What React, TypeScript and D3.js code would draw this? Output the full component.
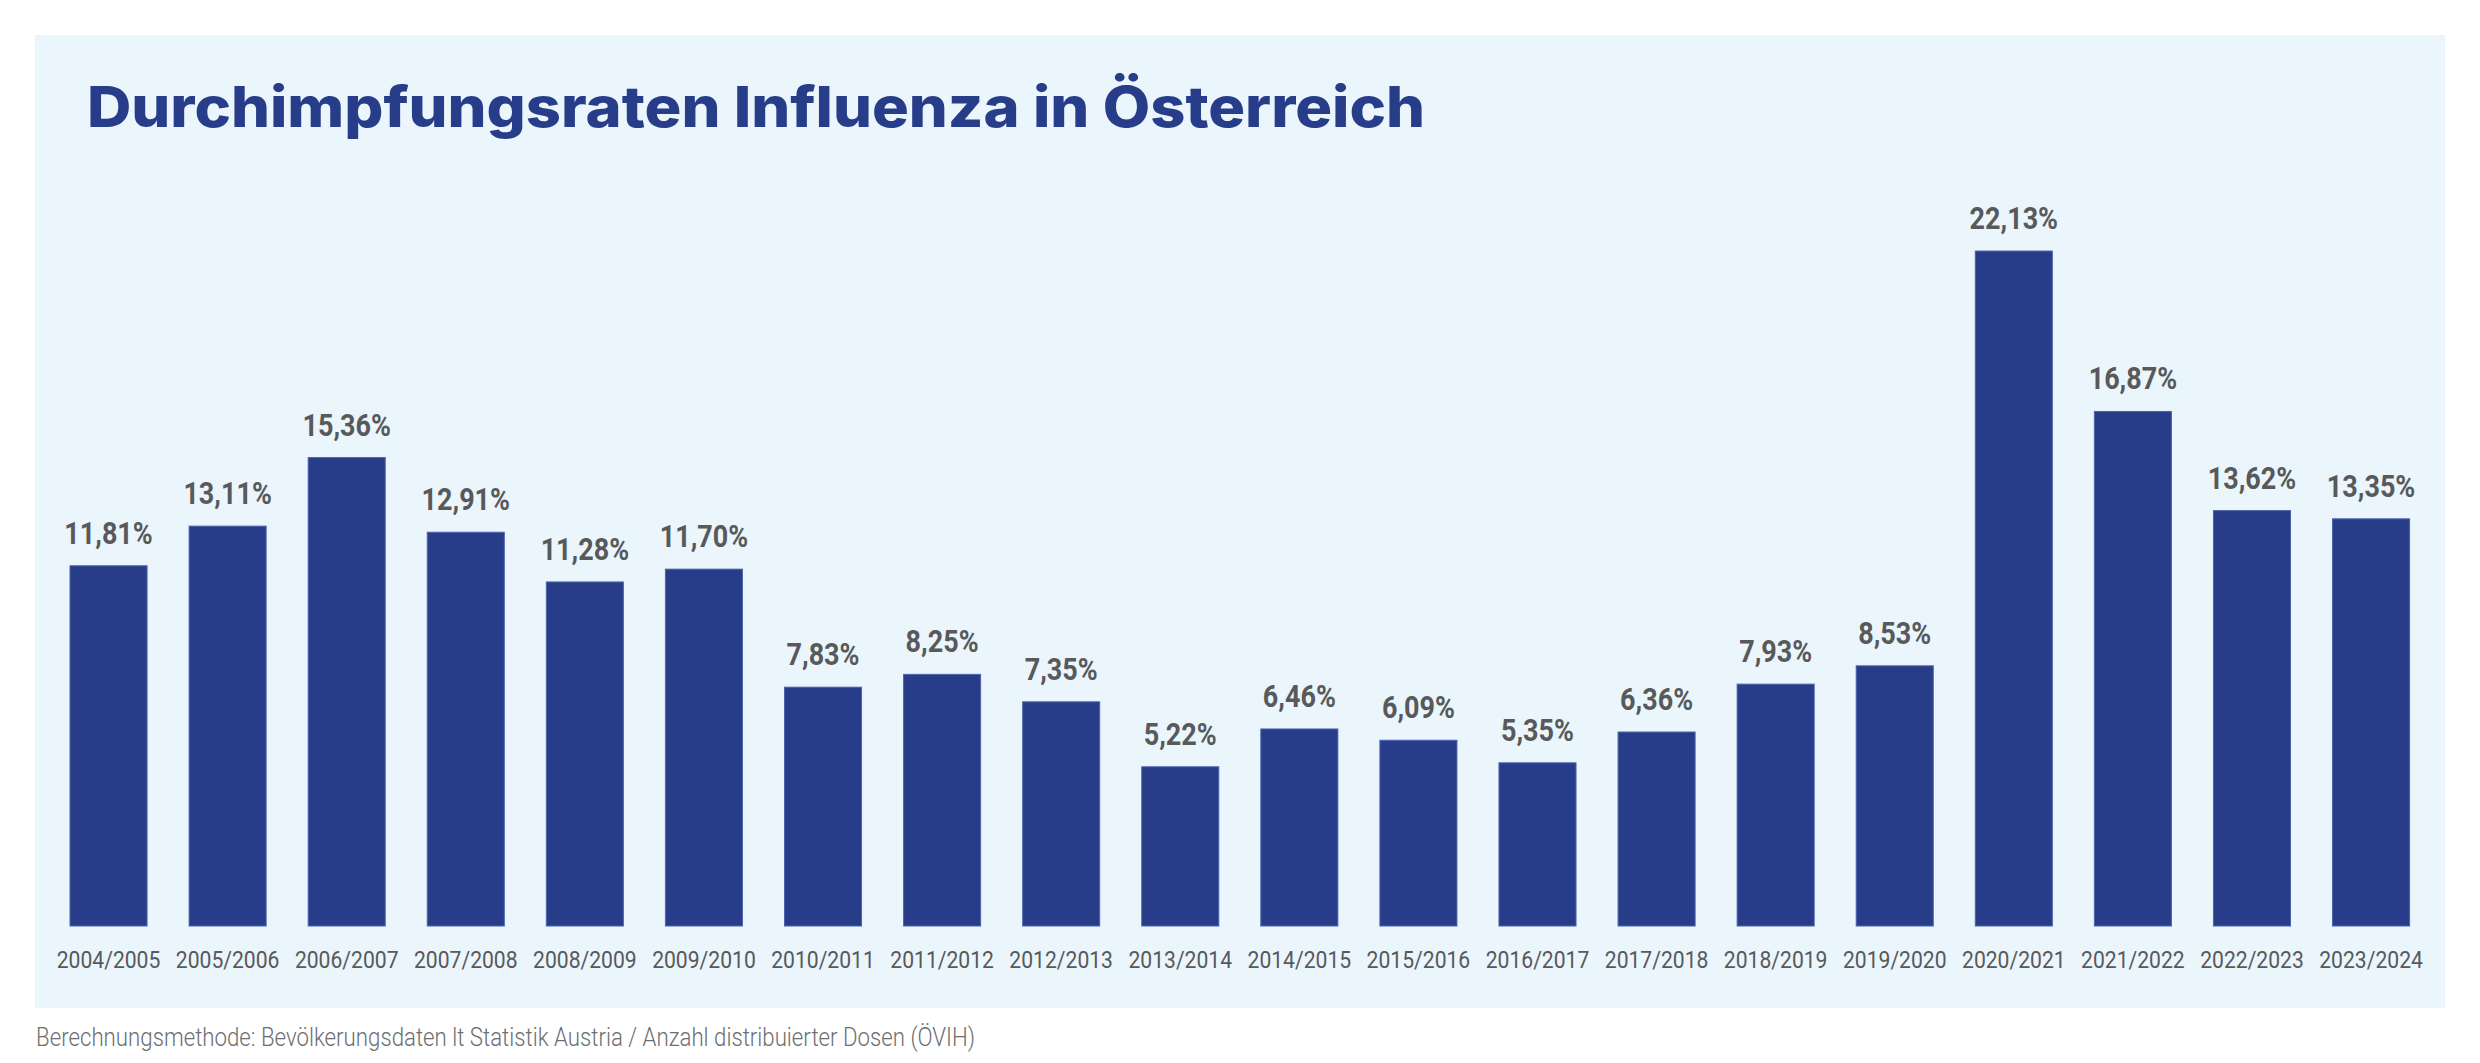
import React from "react";
import * as d3 from "d3";

const seasons = [
  "2004/2005", "2005/2006", "2006/2007", "2007/2008", "2008/2009",
  "2009/2010", "2010/2011", "2011/2012", "2012/2013", "2013/2014",
  "2014/2015", "2015/2016", "2016/2017", "2017/2018", "2018/2019",
  "2019/2020", "2020/2021", "2021/2022", "2022/2023", "2023/2024",
];
const rates = [
  11.81, 13.11, 15.36, 12.91, 11.28, 11.7, 7.83, 8.25, 7.35, 5.22,
  6.46, 6.09, 5.35, 6.36, 7.93, 8.53, 22.13, 16.87, 13.62, 13.35,
];
const title = "Durchimpfungsraten Influenza in Österreich";
const footnote =
  "Berechnungsmethode: Bevölkerungsdaten lt Statistik Austria / Anzahl distribuierter Dosen (ÖVIH)";

const W = 2480;
const H = 1063;
const BAR = "#283d8a";
const TXT = "#58595b";

export default function App() {
  const x = d3
    .scaleBand<string>()
    .domain(seasons)
    .range([49, 2430.6])
    .paddingInner(0.353)
    .paddingOuter(0.1765);
  const y = d3.scaleLinear().domain([0, 25]).range([926, 163.5]);
  const fmt = (v: number) => v.toFixed(2).replace(".", ",") + "%";
  const sx = 0.87;

  return (
    <svg
      width={W}
      height={H}
      viewBox={`0 0 ${W} ${H}`}
      style={{ position: "absolute", left: 0, top: 0, display: "block" }}
    >
      <rect width={W} height={H} fill="#ffffff" />
      <rect x={35} y={35} width={2410} height={973} fill="#eaf5fc" />
      <text
        x={87}
        y={127}
        fontFamily="Inter, 'Open Sans', sans-serif"
        fontWeight={800}
        fontSize={56}
        fill={BAR}
        textLength={1338}
        lengthAdjust="spacingAndGlyphs"
      >
        {title}
      </text>
      {seasons.map((s, i) => {
        const bx = x(s)!;
        const bw = x.bandwidth();
        const cx = bx + bw / 2;
        const top = y(rates[i]);
        return (
          <g key={s}>
            <rect
              x={bx}
              y={top}
              width={bw}
              height={y(0) - top}
              fill={BAR}
              stroke="#4d62ad"
              strokeWidth={1}
            />
            <g transform={`translate(${cx},${top - 22}) scale(${sx},1)`}>
              <text
                x={0}
                y={0}
                textAnchor="middle"
                fontFamily="Roboto, sans-serif"
                fontWeight={700}
                fontSize={31}
                fill={TXT}
              >
                {fmt(rates[i])}
              </text>
            </g>
            <g transform={`translate(${cx},968) scale(0.88,1)`}>
              <text
                x={0}
                y={0}
                textAnchor="middle"
                fontFamily="Roboto, sans-serif"
                fontWeight={400}
                fontSize={24}
                fill={TXT}
              >
                {s}
              </text>
            </g>
          </g>
        );
      })}
      <text
        x={36}
        y={1046}
        fontFamily="Roboto, sans-serif"
        fontWeight={300}
        fontSize={25}
        fill="#6d6e71"
        textLength={939}
        lengthAdjust="spacingAndGlyphs"
      >
        {footnote}
      </text>
    </svg>
  );
}
